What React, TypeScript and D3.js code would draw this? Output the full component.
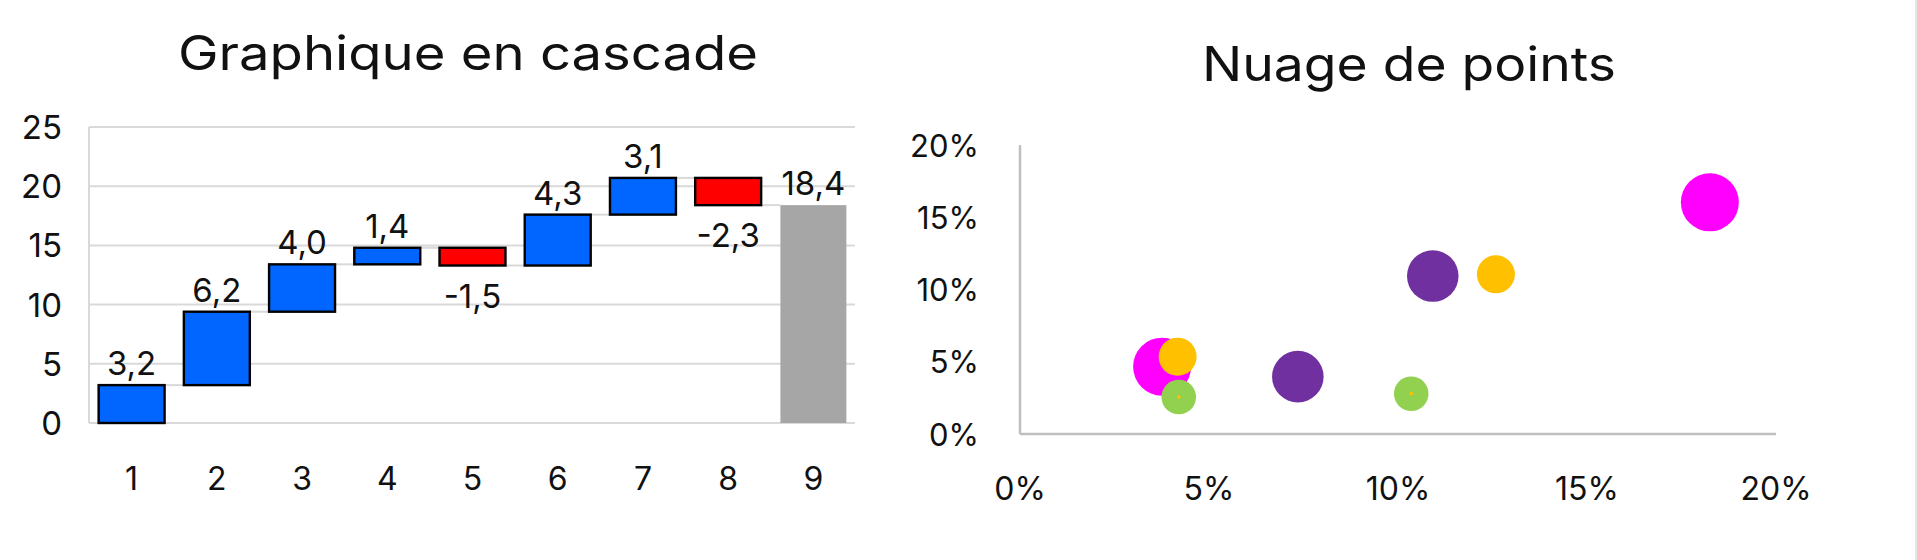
import React, { useEffect, useRef } from 'react';
import * as d3 from 'd3';

// Cascade data
const steps = ['1', '2', '3', '4', '5', '6', '7', '8', '9'];
const deltas = [3.2, 6.2, 4.0, 1.4, -1.5, 4.3, 3.1, -2.3];
const totalValue = 18.4;
const cascadeTicks = [0, 5, 10, 15, 20, 25];

// Bubble data (x, y in fraction, size in arbitrary units)
const pinkPoints = [
  { x: 0.0376, y: 0.0466, size: 10 },
  { x: 0.1825, y: 0.1603, size: 10 },
];
const purplePoints = [
  { x: 0.0735, y: 0.0397, size: 7.9 },
  { x: 0.1092, y: 0.1093, size: 7.9 },
];
const greenPoints = [
  { x: 0.042, y: 0.0256, size: 3.56 },
  { x: 0.1035, y: 0.0279, size: 3.56 },
];
const orangePoints = [
  { x: 0.0417, y: 0.0535, size: 4.3 },
  { x: 0.1259, y: 0.1105, size: 4.3 },
  { x: 0.042, y: 0.0256, size: 0.04 },
  { x: 0.1035, y: 0.0279, size: 0.04 },
];
const scatterTicks = [0, 0.05, 0.1, 0.15, 0.2];

const FONT = 'Inter, "Noto Sans", sans-serif';
const fmt = (v: number) => d3.format('.1f')(Math.abs(v)).replace('.', ',');

export default function App() {
  const svgRef = useRef<SVGSVGElement>(null);

  useEffect(() => {
    if (!svgRef.current) return;
    document.body.style.margin = '0';
    const svg = d3.select(svgRef.current);
    svg.selectAll('*').remove();

    svg.append('rect').attr('width', 1917).attr('height', 560).attr('fill', '#fff');
    svg.append('line')
      .attr('x1', 1916).attr('x2', 1916).attr('y1', 0).attr('y2', 560)
      .attr('stroke', '#e6e6e6').attr('stroke-width', 2);

    // ---------- Cascade ----------
    const left = svg.append('g');
    left.append('text')
      .attr('x', 468).attr('y', 70)
      .attr('text-anchor', 'middle')
      .attr('textLength', 580).attr('lengthAdjust', 'spacingAndGlyphs')
      .style('font-family', FONT).style('font-size', '48px').style('fill', '#111')
      .text('Graphique en cascade');

    const x = d3.scaleBand().domain(steps).range([89, 856]).paddingInner(0.226).paddingOuter(0.113);
    const y = d3.scaleLinear().domain([0, 25]).range([423, 127]);

    left.selectAll('.grid')
      .data(cascadeTicks)
      .join('line')
      .attr('x1', 89).attr('x2', 855)
      .attr('y1', d => y(d)).attr('y2', d => y(d))
      .attr('stroke', '#d9d9d9').attr('stroke-width', 2);
    left.append('line')
      .attr('x1', 89).attr('x2', 89).attr('y1', y(25)).attr('y2', y(0))
      .attr('stroke', '#d9d9d9').attr('stroke-width', 2);

    left.selectAll('.ytick')
      .data(cascadeTicks)
      .join('text')
      .attr('x', 62).attr('y', d => y(d))
      .attr('text-anchor', 'end').attr('dominant-baseline', 'central')
      .style('font-family', FONT).style('font-size', '33px').style('fill', '#111')
      .text(d => String(d));

    left.selectAll('.xtick')
      .data(steps)
      .join('text')
      .attr('x', d => (x(d) || 0) + x.bandwidth() / 2).attr('y', 478)
      .attr('text-anchor', 'middle').attr('dominant-baseline', 'central')
      .style('font-family', FONT).style('font-size', '32px').style('fill', '#111')
      .text(d => d);

    // compute cumulative bars
    let run = 0;
    const bars = deltas.map((d, i) => {
      const start = run;
      run += d;
      return { key: steps[i], start, end: run, value: d, total: false };
    });
    bars.push({ key: steps[8], start: 0, end: totalValue, value: totalValue, total: true });

    // connectors
    left.selectAll('.conn')
      .data(bars.slice(0, -1))
      .join('line')
      .attr('x1', (d) => (x(d.key) || 0) + x.bandwidth())
      .attr('x2', (d, i) => x(bars[i + 1].key) || 0)
      .attr('y1', d => y(d.end)).attr('y2', d => y(d.end))
      .attr('stroke', '#d9d9d9').attr('stroke-width', 2);

    left.selectAll('.bar')
      .data(bars)
      .join('rect')
      .attr('x', d => x(d.key) || 0)
      .attr('width', x.bandwidth())
      .attr('y', d => y(Math.max(d.start, d.end)))
      .attr('height', d => Math.abs(y(d.start) - y(d.end)))
      .attr('fill', d => (d.total ? '#a6a6a6' : d.value >= 0 ? '#0066ff' : '#ff0000'))
      .attr('stroke', d => (d.total ? 'none' : '#000'))
      .attr('stroke-width', 2.4);

    left.selectAll('.lbl')
      .data(bars)
      .join('text')
      .attr('x', d => (x(d.key) || 0) + x.bandwidth() / 2)
      .attr('y', d => (d.value >= 0 ? y(Math.max(d.start, d.end)) - 10 : y(Math.min(d.start, d.end)) + 42))
      .attr('text-anchor', 'middle')
      .style('font-family', FONT).style('font-size', '33px').style('fill', '#111')
      .text(d => (d.value < 0 ? '-' : '') + fmt(d.value));

    // ---------- Bubble ----------
    const right = svg.append('g');
    right.append('text')
      .attr('x', 1409).attr('y', 81)
      .attr('text-anchor', 'middle')
      .attr('textLength', 414).attr('lengthAdjust', 'spacingAndGlyphs')
      .style('font-family', FONT).style('font-size', '48px').style('fill', '#111')
      .text('Nuage de points');

    const sx = d3.scaleLinear().domain([0, 0.2]).range([1020, 1776]);
    const sy = d3.scaleLinear().domain([0, 0.2]).range([434, 145]);
    const r = d3.scaleSqrt().domain([0, 10]).range([0, 29]);
    const pct = d3.format('.0%');

    right.append('line')
      .attr('x1', sx(0)).attr('x2', sx(0)).attr('y1', sy(0.2)).attr('y2', sy(0))
      .attr('stroke', '#bfbfbf').attr('stroke-width', 2.5);
    right.append('line')
      .attr('x1', sx(0)).attr('x2', sx(0.2)).attr('y1', sy(0)).attr('y2', sy(0))
      .attr('stroke', '#bfbfbf').attr('stroke-width', 2.5);

    right.selectAll('.ytick')
      .data(scatterTicks)
      .join('text')
      .attr('x', 979).attr('y', d => sy(d))
      .attr('text-anchor', 'end').attr('dominant-baseline', 'central')
      .style('font-family', FONT).style('font-size', '31px').style('fill', '#111')
      .text(d => pct(d));

    right.selectAll('.xtick')
      .data(scatterTicks)
      .join('text')
      .attr('x', d => sx(d)).attr('y', 488)
      .attr('text-anchor', 'middle').attr('dominant-baseline', 'central')
      .style('font-family', FONT).style('font-size', '32px').style('fill', '#111')
      .text(d => pct(d));

    const groups: [typeof pinkPoints, string][] = [
      [pinkPoints, '#ff00ff'],
      [purplePoints, '#7030a0'],
      [greenPoints, '#92d050'],
      [orangePoints, '#ffc000'],
    ];
    groups.forEach(([pts, color]) => {
      right.append('g')
        .selectAll('circle')
        .data(pts)
        .join('circle')
        .attr('cx', d => sx(d.x))
        .attr('cy', d => sy(d.y))
        .attr('r', d => r(d.size))
        .attr('fill', color);
    });
  }, []);

  return (
    <svg
      ref={svgRef}
      width={1917}
      height={560}
      style={{ position: 'absolute', left: 0, top: 0, display: 'block' }}
    />
  );
}
